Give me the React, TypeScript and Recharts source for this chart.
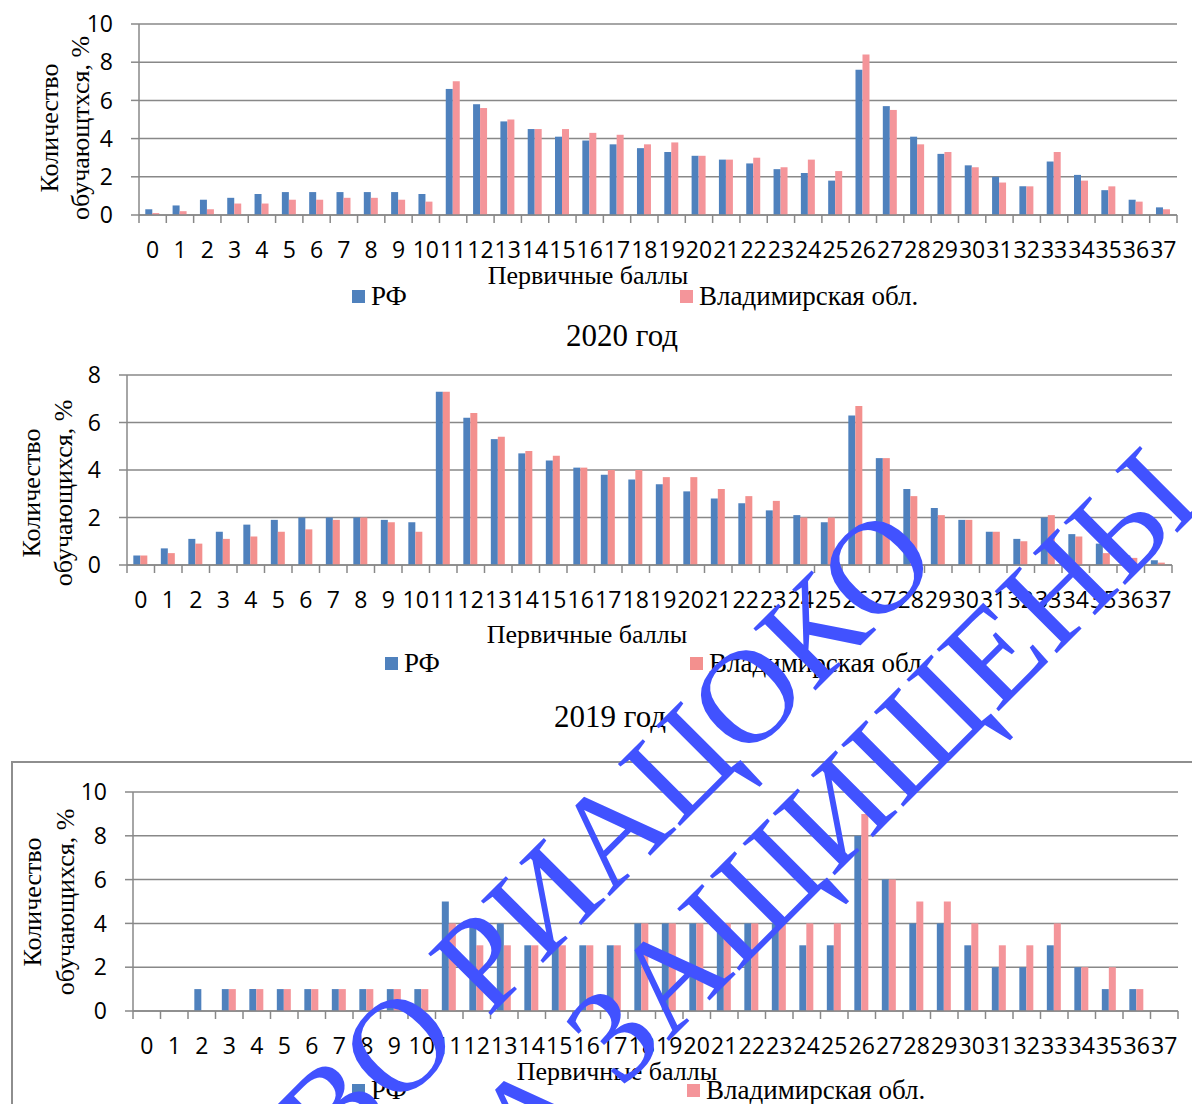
import React from "react";
import { BarChart, Bar, XAxis, YAxis, CartesianGrid, Legend } from "recharts";

// первичные баллы 0..37
const scores = [
  "0", "1", "2", "3", "4", "5", "6", "7", "8", "9", "10", "11", "12",
  "13", "14", "15", "16", "17", "18", "19", "20", "21", "22", "23", "24", "25",
  "26", "27", "28", "29", "30", "31", "32", "33", "34", "35", "36", "37",
];

// верхняя диаграмма (2021)
const rf2021 = [
  0.3, 0.5, 0.8, 0.9, 1.1, 1.2, 1.2, 1.2, 1.2, 1.2, 1.1, 6.6, 5.8, 4.9, 4.5, 4.1, 3.9, 3.7, 3.5,
  3.3, 3.1, 2.9, 2.7, 2.4, 2.2, 1.8, 7.6, 5.7, 4.1, 3.2, 2.6, 2.0, 1.5, 2.8, 2.1, 1.3, 0.8, 0.4,
];
const vlad2021 = [
  0.1, 0.2, 0.3, 0.6, 0.6, 0.8, 0.8, 0.9, 0.9, 0.8, 0.7, 7.0, 5.6, 5.0, 4.5, 4.5, 4.3, 4.2, 3.7,
  3.8, 3.1, 2.9, 3.0, 2.5, 2.9, 2.3, 8.4, 5.5, 3.7, 3.3, 2.5, 1.7, 1.5, 3.3, 1.8, 1.5, 0.7, 0.3,
];

// 2020 год
const rf2020 = [
  0.4, 0.7, 1.1, 1.4, 1.7, 1.9, 2.0, 2.0, 2.0, 1.9, 1.8, 7.3, 6.2, 5.3, 4.7, 4.4, 4.1, 3.8, 3.6,
  3.4, 3.1, 2.8, 2.6, 2.3, 2.1, 1.8, 6.3, 4.5, 3.2, 2.4, 1.9, 1.4, 1.1, 2.0, 1.3, 0.9, 0.4, 0.2,
];
const vlad2020 = [
  0.4, 0.5, 0.9, 1.1, 1.2, 1.4, 1.5, 1.9, 2.0, 1.8, 1.4, 7.3, 6.4, 5.4, 4.8, 4.6, 4.1, 4.0, 4.0,
  3.7, 3.7, 3.2, 2.9, 2.7, 2.0, 2.0, 6.7, 4.5, 2.9, 2.1, 1.9, 1.4, 1.0, 2.1, 1.2, 0.5, 0.3, 0.1,
];

// 2019 год
const rf2019 = [
  0, 0, 1, 1, 1, 1, 1, 1, 1, 1, 1, 5, 4, 4, 3, 3, 3, 3, 4,
  4, 4, 4, 4, 4, 3, 3, 8, 6, 4, 4, 3, 2, 2, 3, 2, 1, 1, 0,
];
const vlad2019 = [
  0, 0, 0, 1, 1, 1, 1, 1, 1, 1, 1, 4, 3, 3, 3, 3, 3, 3, 4,
  4, 4, 4, 4, 4, 4, 4, 9, 6, 5, 5, 4, 3, 3, 4, 2, 2, 1, 0,
];

const ticks10 = [0, 2, 4, 6, 8, 10];
const ticks8 = [0, 2, 4, 6, 8];

const SERIF = '"Liberation Serif", "Times New Roman", serif';
const SANS = '"Open Sans", "Noto Sans", sans-serif';
const BLUE = "#4F81BD";
const PINK = "#F4959A";
const GRID = "#888888";
const W = 1192;

function ScoreTick(props: any) {
  const { x, y, payload, index, step, count, labelDy } = props;
  return (
    <g>
      <line x1={x - step / 2} x2={x - step / 2} y1={y} y2={y + 8} stroke={GRID} strokeWidth={1.5} />
      {index === count - 1 ? (
        <line x1={x + step / 2} x2={x + step / 2} y1={y} y2={y + 8} stroke={GRID} strokeWidth={1.5} />
      ) : null}
      <text x={x} y={y + labelDy} textAnchor="middle" dominantBaseline="central" fontFamily={SANS} fontSize={23} fill="#000">
        {payload.value}
      </text>
    </g>
  );
}

function YTitle({ line1, line2, x1, x2, cy }: any) {
  return (
    <g fontFamily={SERIF} fontSize={26} fill="#000">
      <text x={x1} y={cy} textAnchor="middle" dominantBaseline="central" transform={`rotate(-90 ${x1} ${cy})`}>
        {line1}
      </text>
      <text x={x2} y={cy} textAnchor="middle" dominantBaseline="central" transform={`rotate(-90 ${x2} ${cy})`}>
        {line2}
      </text>
    </g>
  );
}

// props named tx/ty so Recharts' own x/y do not replace them
function XTitle({ tx, ty }: any) {
  return (
    <text x={tx} y={ty} textAnchor="middle" dominantBaseline="central" fontFamily={SERIF} fontSize={26} fill="#000">
      Первичные баллы
    </text>
  );
}

function LegendRow({ rfX, vladX, itemTop, pink }: any) {
  const item = (left: number, color: string, label: string) => (
    <div style={{ position: "absolute", left, top: itemTop, display: "flex", alignItems: "center", whiteSpace: "nowrap" }}>
      <span style={{ display: "inline-block", width: 13, height: 13, background: color, marginRight: 6 }} />
      <span style={{ fontFamily: SERIF, fontSize: 27, lineHeight: "28px", color: "#000" }}>{label}</span>
    </div>
  );
  return (
    <div style={{ position: "relative", width: W, height: "100%" }}>
      {item(rfX, BLUE, "РФ")}
      {item(vladX, pink, "Владимирская обл.")}
    </div>
  );
}

type PanelProps = {
  top: number;
  height: number;
  plotLeft: number;
  plotRight: number;
  plotTop: number;
  plotBottom: number;
  legendTop: number;
  yMax: number;
  yTicks: number[];
  rf: number[];
  vlad: number[];
  labelDy: number;
  xTitleX: number;
  xTitleY: number;
  rfX: number;
  vladX: number;
  legendY: number;
  yTitle2: string;
  yx1: number;
  yx2: number;
  ycy: number;
  pink: string;
};

function Panel(p: PanelProps) {
  const data = scores.map((s, i) => ({ score: s, rf: p.rf[i], vlad: p.vlad[i] }));
  const yAxisWidth = 60;
  const step = (p.plotRight - p.plotLeft) / scores.length;
  const legendH = p.top + p.height - p.legendTop;
  const xh = p.legendTop - p.plotBottom;
  return (
    <div style={{ position: "absolute", left: 0, top: p.top }}>
      <BarChart
        width={W}
        height={p.height}
        data={data}
        margin={{ top: p.plotTop - p.top, right: W - p.plotRight, left: p.plotLeft - yAxisWidth, bottom: 0 }}
        barCategoryGap="23%"
        barGap={0}
      >
        <CartesianGrid vertical={false} stroke={GRID} strokeWidth={1.5} />
        <XAxis
          dataKey="score"
          interval={0}
          height={xh}
          tickSize={0}
          tickMargin={0}
          tickLine={false}
          axisLine={{ stroke: GRID, strokeWidth: 1.5 }}
          tick={<ScoreTick step={step} count={scores.length} labelDy={p.labelDy} />}
          label={<XTitle tx={p.xTitleX} ty={p.xTitleY - p.top} />}
        />
        <YAxis
          width={yAxisWidth}
          domain={[0, p.yMax]}
          ticks={p.yTicks}
          interval={0}
          tickSize={8}
          tickMargin={18}
          tickLine={{ stroke: GRID, strokeWidth: 1.5 }}
          axisLine={{ stroke: GRID, strokeWidth: 1.5 }}
          tick={{ fontFamily: SANS, fontSize: 23, fill: "#000" }}
          label={<YTitle line1="Количество" line2={p.yTitle2} x1={p.yx1} x2={p.yx2} cy={p.ycy - p.top} />}
        />
        <Legend
          verticalAlign="bottom"
          height={legendH}
          wrapperStyle={{ left: 0, width: W, height: legendH }}
          content={<LegendRow rfX={p.rfX} vladX={p.vladX} itemTop={p.legendY - p.legendTop - 14} pink={p.pink} />}
        />
        <Bar dataKey="rf" fill={BLUE} isAnimationActive={false} />
        <Bar dataKey="vlad" fill={p.pink} isAnimationActive={false} />
      </BarChart>
    </div>
  );
}

function Watermark() {
  return (
    <svg width={W} height={1104} style={{ position: "absolute", left: 0, top: 0, pointerEvents: "none" }}>
      <g fontFamily={SERIF} fontSize={134} fill="#4152FF">
        <text x={942} y={564} textAnchor="end" transform="rotate(-45 942 564)">
          ГБУ ВО РИАЦОКО
        </text>
        <text x={1205} y={505} textAnchor="end" transform="rotate(-45 1205 505)">
          ПРАВА ЗАЩИЩЕНЫ
        </text>
      </g>
    </svg>
  );
}

export default function App() {
  return (
    <div style={{ position: "absolute", left: 0, top: 0, width: W, height: 1104, background: "#fff", overflow: "hidden" }}>
      <Panel
        top={0}
        height={320}
        plotLeft={139}
        plotRight={1177}
        plotTop={24}
        plotBottom={215}
        legendTop={282}
        yMax={10}
        yTicks={ticks10}
        rf={rf2021}
        vlad={vlad2021}
        labelDy={34}
        xTitleX={588}
        xTitleY={275}
        rfX={352}
        vladX={680}
        legendY={296}
        yTitle2="обучающтхся, %"
        yx1={49}
        yx2={80}
        ycy={128}
        pink={PINK}
      />
      <div style={{ position: "absolute", left: 0, width: 1244, top: 318, textAlign: "center", fontFamily: SERIF, fontSize: 31, lineHeight: "36px" }}>
        2020 год
      </div>
      <Panel
        top={355}
        height={335}
        plotLeft={127}
        plotRight={1172}
        plotTop={375}
        plotBottom={565}
        legendTop={649}
        yMax={8}
        yTicks={ticks8}
        rf={rf2020}
        vlad={vlad2020}
        labelDy={34}
        xTitleX={587}
        xTitleY={634}
        rfX={385}
        vladX={690}
        legendY={663}
        yTitle2="обучающихся, %"
        yx1={31}
        yx2={63}
        ycy={493}
        pink="#F3908E"
      />
      <div style={{ position: "absolute", left: 0, width: 1220, top: 699, textAlign: "center", fontFamily: SERIF, fontSize: 31, lineHeight: "36px" }}>
        2019 год
      </div>
      <div style={{ position: "absolute", left: 11, top: 761, width: 1300, height: 500, border: "2px solid #8e8e8e", boxSizing: "border-box" }} />
      <Panel
        top={770}
        height={334}
        plotLeft={133}
        plotRight={1178}
        plotTop={792}
        plotBottom={1011}
        legendTop={1076}
        yMax={10}
        yTicks={ticks10}
        rf={rf2019}
        vlad={vlad2019}
        labelDy={34}
        xTitleX={617}
        xTitleY={1071}
        rfX={352}
        vladX={687}
        legendY={1090}
        yTitle2="обучающихся, %"
        yx1={32}
        yx2={65}
        ycy={902}
        pink={PINK}
      />
      <Watermark />
    </div>
  );
}
